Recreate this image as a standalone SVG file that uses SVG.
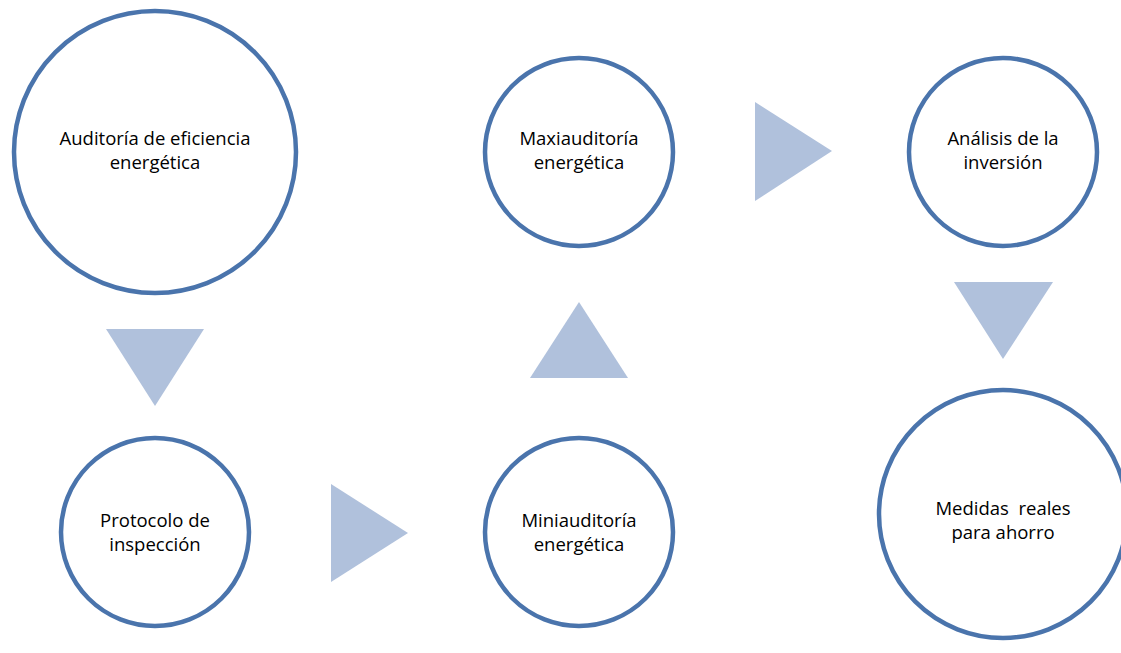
<svg xmlns="http://www.w3.org/2000/svg" width="1121" height="653" viewBox="0 0 1121 653">
<style>
.node{fill:#fff;stroke:#4A74AC;stroke-width:4.5}
.arrow{fill:#B0C1DC}
text{font-family:"Open Sans","Liberation Sans",sans-serif;font-size:18.5px;fill:#000;text-anchor:middle}
</style>
<rect width="1121" height="653" fill="#fff"/>
<g id="connectors">
<polygon class="arrow" points="106,329 204,329 155,406"/>
<polygon class="arrow" points="331,484 408,533 331,582"/>
<polygon class="arrow" points="530,378 628,378 579,302"/>
<polygon class="arrow" points="755,102 832,151 755,201"/>
<polygon class="arrow" points="954,282 1053,282 1003,359"/>
</g>
<g id="n1"><circle class="node" cx="155" cy="152" r="141"/><text x="155" y="145">Auditoría de eficiencia</text><text x="155" y="169">energética</text></g>
<g id="n2"><circle class="node" cx="155" cy="532" r="94"/><text x="155" y="527">Protocolo de</text><text x="155" y="551">inspección</text></g>
<g id="n3"><circle class="node" cx="579" cy="532" r="94"/><text x="579" y="527">Miniauditoría</text><text x="579" y="551">energética</text></g>
<g id="n4"><circle class="node" cx="579" cy="152" r="94"/><text x="579" y="145">Maxiauditoría</text><text x="579" y="169">energética</text></g>
<g id="n5"><circle class="node" cx="1003" cy="152" r="94"/><text x="1003" y="145">Análisis de la</text><text x="1003" y="169">inversión</text></g>
<g id="n6"><circle class="node" cx="1003" cy="514" r="124"/><text x="1003" y="515" xml:space="preserve">Medidas  reales</text><text x="1003" y="539">para ahorro</text></g>
</svg>
